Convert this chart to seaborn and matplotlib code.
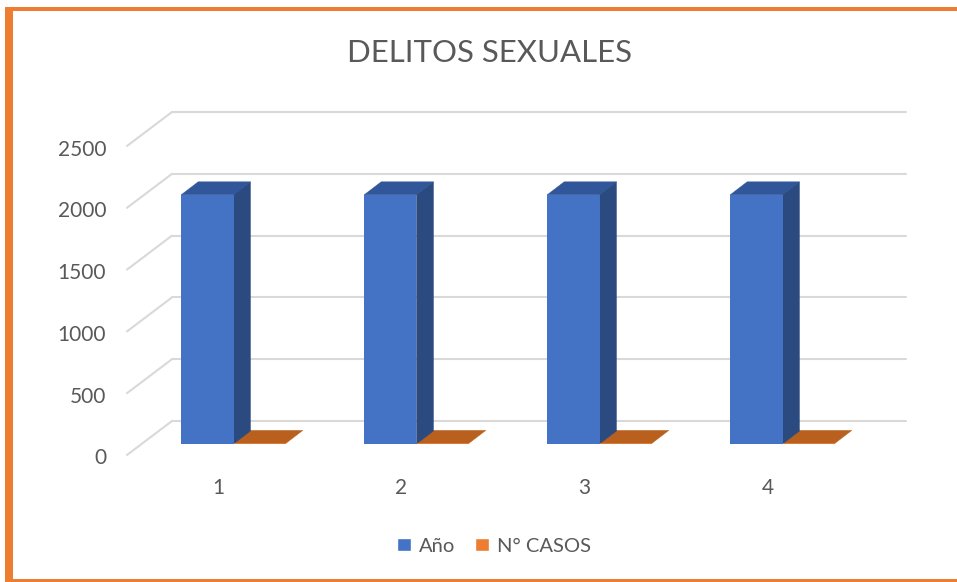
import matplotlib
matplotlib.use("Agg")
from matplotlib import pyplot as plt
from matplotlib.patches import Polygon, Rectangle
from matplotlib.transforms import ScaledTranslation
import pandas as pd
import seaborn as sns

categories = ["1", "2", "3", "4"]
anio = [2016, 2016, 2016, 2016]
casos = [5, 5, 5, 5]
y_ticks = [0, 500, 1000, 1500, 2000, 2500]

W, H = 957, 582
df = pd.DataFrame({
    "cat": categories * 2,
    "serie": ["Año"] * 4 + ["N° CASOS"] * 4,
    "valor": anio + casos,
})

sns.set_theme(style="white")
plt.rcParams["font.family"] = ["Lato", "DejaVu Sans"]
grey = "#595959"
grid = "#D9D9D9"
orange = "#ED7D31"

fig = plt.figure(figsize=(W / 100, H / 100), dpi=100, facecolor="white")
ax = fig.add_axes([127 / W, (H - 455) / H, 732 / W, 309 / H])
ax.patch.set_alpha(0)

sns.barplot(data=df, x="cat", y="valor", hue="serie", order=categories,
            palette={"Año": "#4472C4", "N° CASOS": "#E07A30"}, saturation=1,
            width=0.572, gap=0, legend=False, ax=ax, zorder=3, linewidth=0)
ax.set_xlim(-0.5, 3.5)
ax.set_ylim(0, 2500)

# depth of the fake 3d, in data units
units_x = 4 / 732
units_y = 2500 / 309
wall_dx, wall_dy = 45 * units_x, 34 * units_y
wall_end = 3.5 + 47 * units_x
lift_dx, lift_dy = 15 * units_x, 11 * units_y
bar_dx, bar_dy = 17 * units_x, 13 * units_y

for v in y_ticks:
    ax.plot([-0.5, -0.5 + wall_dx], [v, v + wall_dy], color=grid, lw=1.5,
            clip_on=False, zorder=1, solid_capstyle="round")
    ax.plot([-0.5 + wall_dx, wall_end], [v + wall_dy, v + wall_dy], color=grid,
            lw=1.5, clip_on=False, zorder=1)

for p in list(ax.patches):
    p.set_x(p.get_x() + lift_dx)
    p.set_y(p.get_y() + lift_dy)
    p.set_clip_on(False)
    x0, x1 = p.get_x(), p.get_x() + p.get_width()
    y0, y1 = p.get_y(), p.get_y() + p.get_height()
    is_blue = p.get_height() > 100
    top = "#31569A" if is_blue else "#B9601F"
    ax.add_patch(Polygon([(x0, y1), (x1, y1), (x1 + bar_dx, y1 + bar_dy), (x0 + bar_dx, y1 + bar_dy)],
                         fc=top, ec=top, lw=0.3, clip_on=False, zorder=2.9 if is_blue else 2.5))
    if is_blue:
        ax.add_patch(Polygon([(x1, y0), (x1 + bar_dx, y0 + bar_dy), (x1 + bar_dx, y1 + bar_dy), (x1, y1)],
                             fc="#2A4A80", ec="#2A4A80", lw=0.3, clip_on=False, zorder=2.9))

sns.despine(ax=ax, left=True, bottom=True)
ax.set_xlabel("")
ax.set_ylabel("")
ax.set_yticks(y_ticks)
ax.tick_params(axis="both", length=0, labelsize=15, labelcolor=grey)
ax.tick_params(axis="y", pad=15)
ax.tick_params(axis="x", pad=16.5)
# y labels sit a little under their lines
shift = ScaledTranslation(0, -1.5 / 100, fig.dpi_scale_trans)
for lab in ax.get_yticklabels():
    lab.set_transform(lab.get_transform() + shift)

fig.text(489.5 / W, 1 - 53.5 / H, "DELITOS SEXUALES", fontsize=22.4, color=grey,
         ha="center", va="center")

handles = [Rectangle((0, 0), 1, 1, fc="#4472C4"), Rectangle((0, 0), 1, 1, fc=orange)]
fig.legend(handles, ["Año", "N° CASOS"], loc="center", bbox_to_anchor=(494 / W, 1 - 546 / H),
           ncol=2, frameon=False, fontsize=14.5, labelcolor=grey, handlelength=0.68,
           handleheight=0.68, handletextpad=0.4, columnspacing=1.0, borderpad=0)

# orange frame of the picture
fig.add_artist(Rectangle((5 / W, 0), 8 / W, (H - 7) / H, fc=orange, ec="none", transform=fig.transFigure))
fig.add_artist(Rectangle((5 / W, 1 - 11 / H), (W - 5) / W, 4 / H, fc=orange, ec="none", transform=fig.transFigure))
fig.add_artist(Rectangle((5 / W, 0), (W - 5) / W, 3 / H, fc=orange, ec="none", transform=fig.transFigure))

fig.savefig("out.png", dpi=100)
